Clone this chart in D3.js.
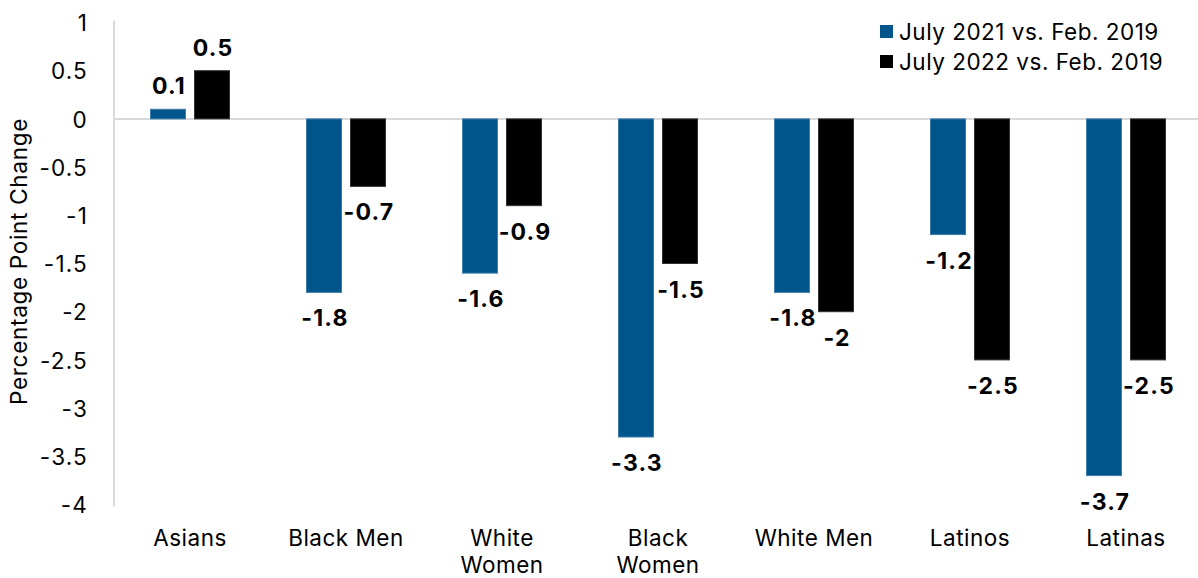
<!DOCTYPE html>
<html><head><meta charset="utf-8">
<script src="https://cdn.jsdelivr.net/npm/d3@7"></script>
<style>
body{margin:0;background:#fff;}
svg{display:block;font-family:Inter,"Liberation Sans",sans-serif;}
</style></head>
<body>
<svg id="chart" width="1198" height="578"></svg>
<script>
const categories = ["Asians","Black Men","White Women","Black Women","White Men","Latinos","Latinas"];
const seriesNames = ["July 2021 vs. Feb. 2019","July 2022 vs. Feb. 2019"];
const july2021 = [0.1,-1.8,-1.6,-3.3,-1.8,-1.2,-3.7];
const july2022 = [0.5,-0.7,-0.9,-1.5,-2,-2.5,-2.5];
const yTicks = [1,0.5,0,-0.5,-1,-1.5,-2,-2.5,-3,-3.5,-4];
const colors = ["#00568A","#000000"];

const fmt = d => String(d).replace("\u2212","-");
const svg = d3.select("#chart");
const y = d3.scaleLinear().domain([-4,1]).range([504.5,22.5]);
const x = d3.scaleBand().domain(categories).range([112,1204]).padding(0);
const series = [july2021, july2022];
const bw = 35, gap = 9;
const FS = 22.5, LS = "0.5px";

svg.append("line").attr("x1",114).attr("x2",1198).attr("y1",y(0)).attr("y2",y(0))
  .attr("stroke","#d9d9d9").attr("stroke-width",2);
svg.append("line").attr("x1",114).attr("x2",114).attr("y1",y(1)-2).attr("y2",y(-4)+2)
  .attr("stroke","#d9d9d9").attr("stroke-width",2);

const yAxis = d3.axisLeft(y).tickValues(yTicks).tickSize(0).tickPadding(0).tickFormat(fmt);
const ya = svg.append("g").attr("transform","translate(88,0)").call(yAxis);
ya.select(".domain").remove();
ya.selectAll("text").attr("font-size",FS).attr("letter-spacing","1.2px").attr("fill","#000")
  .attr("font-family","Inter,sans-serif").attr("dy","0.36em");

svg.append("text").attr("transform",`translate(27,${y(-1.5)-2}) rotate(-90)`)
  .attr("text-anchor","middle").attr("font-size",22.5).attr("letter-spacing","0.7px").text("Percentage Point Change");

series.forEach((vals,si)=>{
  const off = si===0 ? -(bw+gap)/2 : (bw+gap)/2;
  const g = svg.append("g");
  g.selectAll("rect").data(vals).join("rect")
    .attr("x",(d,i)=>x(categories[i])+x.bandwidth()/2+off-bw/2)
    .attr("width",bw)
    .attr("y",d=>y(Math.max(0,d)))
    .attr("height",d=>Math.abs(y(d)-y(0)))
    .attr("fill",colors[si])
    .attr("stroke",si===0?"#3f7fae":"#333").attr("stroke-width",1);
  g.selectAll("text").data(vals).join("text")
    .attr("x",(d,i)=>x(categories[i])+x.bandwidth()/2+off+1)
    .attr("y",d=>d>=0 ? y(d)-15 : y(d)+34)
    .attr("text-anchor","middle").attr("font-size",23).attr("font-weight","bold")
    .attr("letter-spacing","1.2px").text(fmt);
});

const xl = svg.append("g");
categories.forEach(c=>{
  const cx = x(c)+x.bandwidth()/2;
  const t = xl.append("text").attr("x",cx).attr("y",546)
    .attr("text-anchor","middle").attr("font-size",FS).attr("letter-spacing",LS);
  const words = c.split(" ");
  let line=[];
  let ts = t.append("tspan").attr("x",cx).attr("dy",0);
  words.forEach(w=>{
    line.push(w); ts.text(line.join(" "));
    if(ts.node().getComputedTextLength()>135 && line.length>1){
      line.pop(); ts.text(line.join(" ")); line=[w];
      ts = t.append("tspan").attr("x",cx).attr("dy","1.2em").text(w);
    }
  });
});

const lg = svg.append("g");
seriesNames.forEach((n,i)=>{
  lg.append("rect").attr("x",880).attr("y",25+i*30).attr("width",13).attr("height",13).attr("fill",colors[i]);
  lg.append("text").attr("x",899).attr("y",40+i*30).attr("font-size",FS).attr("letter-spacing",LS).text(n);
});
</script>
</body></html>
